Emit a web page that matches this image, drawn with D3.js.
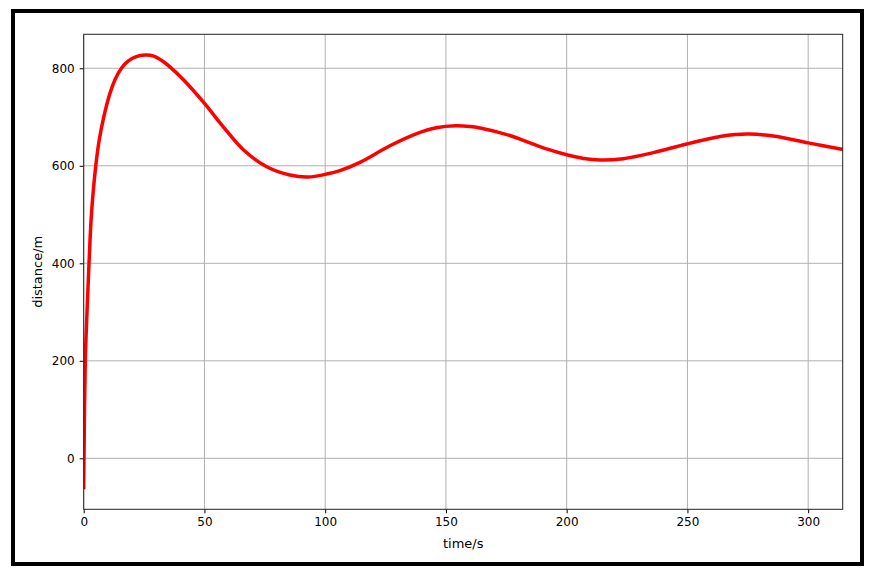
<!DOCTYPE html>
<html>
<head>
<meta charset="utf-8">
<script src="https://cdn.jsdelivr.net/npm/d3@7"></script>
<style>
  html, body { margin: 0; padding: 0; background: #fff; }
  svg { display: block; }
</style>
</head>
<body>
<svg id="chart" width="869" height="574"></svg>
<script>
// ---- data ----
const timeValues = [0, 0.12, 0.66, 1.37, 2.2, 3.2, 5.0, 6.5, 8.3, 10.9, 13.0, 15.6, 18.5, 21.5, 25.5,
  29.0, 32.0, 35.7, 41.2, 49.5, 57.8, 66.1, 75.8, 85.4, 93.0, 100.6, 106.1, 114.4, 126.8, 137.9,
  146.0, 154.0, 160.0, 164.1, 175.2, 184.8, 192.0, 200.0, 207.0, 214.0, 223.4, 235.9, 249.7, 263.5,
  270.0, 275.5, 285.5, 300.0, 314.0];
const distanceValues = [-60, 0, 200, 300, 400, 500, 600, 655, 700, 749, 777, 800, 815, 823.5, 827,
  825, 817, 803, 777, 731, 680, 633, 598, 581, 577, 583, 590, 607, 641, 666,
  678, 682, 680.5, 677.5, 664, 647, 634, 622.5, 615, 612, 614.6, 627, 644.7, 660,
  664, 665, 661, 647, 634];
const xTicks = [0, 50, 100, 150, 200, 250, 300];
const yTicks = [0, 200, 400, 600, 800];
const xLabel = "time/s";
const yLabel = "distance/m";

// ---- layout ----
const svg = d3.select("#chart");
const plot = { left: 83.7, right: 842.7, top: 34.3, bottom: 509.3 };

svg.append("rect").attr("x", 13).attr("y", 11).attr("width", 849).attr("height", 553)
  .attr("fill", "#fff").attr("stroke", "#000").attr("stroke-width", 4);

const x = d3.scaleLinear().domain([0, 314.3]).range([plot.left, plot.right]);
const y = d3.scaleLinear().domain([-104.6, 869.7]).range([plot.bottom, plot.top]);

// grid
const grid = svg.append("g");
grid.selectAll("line.vx").data(xTicks).join("line")
  .attr("x1", d => x(d)).attr("x2", d => x(d)).attr("y1", plot.top).attr("y2", plot.bottom)
  .attr("stroke", "#b0b0b0").attr("stroke-width", 1);
grid.selectAll("line.hy").data(yTicks).join("line")
  .attr("y1", d => y(d)).attr("y2", d => y(d)).attr("x1", plot.left).attr("x2", plot.right)
  .attr("stroke", "#b0b0b0").attr("stroke-width", 1);

// line
const pts = timeValues.map((t, i) => [t, distanceValues[i]]);
const clipId = "plotclip";
svg.append("clipPath").attr("id", clipId).append("rect")
  .attr("x", plot.left).attr("y", plot.top).attr("width", plot.right - plot.left).attr("height", plot.bottom - plot.top);
svg.append("path").datum(pts)
  .attr("clip-path", "url(#" + clipId + ")")
  .attr("fill", "none").attr("stroke", "#ff0000").attr("stroke-width", 3.5)
  .attr("stroke-linecap", "square").attr("stroke-linejoin", "round")
  .attr("d", d3.line().x(d => x(d[0])).y(d => y(d[1])).curve(d3.curveCatmullRom.alpha(0.5)));

// axes
const font = "DejaVu Sans, sans-serif";
const xAxis = svg.append("g").attr("transform", `translate(0,${plot.bottom})`)
  .call(d3.axisBottom(x).tickValues(xTicks).tickSize(4).tickPadding(4).tickFormat(d3.format("d")));
const yAxis = svg.append("g").attr("transform", `translate(${plot.left},0)`)
  .call(d3.axisLeft(y).tickValues(yTicks).tickSize(4).tickPadding(5).tickFormat(d3.format("d")));
[xAxis, yAxis].forEach(a => {
  a.select(".domain").remove();
  a.selectAll("text").attr("font-family", font).attr("font-size", 12).attr("fill", "#000");
  a.selectAll("line").attr("stroke", "#000");
});

// frame
svg.append("rect").attr("x", plot.left).attr("y", plot.top)
  .attr("width", plot.right - plot.left).attr("height", plot.bottom - plot.top)
  .attr("fill", "none").attr("stroke", "#222").attr("stroke-width", 1);

// labels
svg.append("text").attr("x", (plot.left + plot.right) / 2).attr("y", 548)
  .attr("text-anchor", "middle").attr("font-family", font).attr("font-size", 13).text(xLabel);
svg.append("text").attr("transform", `translate(42,${(plot.top + plot.bottom) / 2}) rotate(-90)`)
  .attr("text-anchor", "middle").attr("font-family", font).attr("font-size", 13).text(yLabel);
</script>
</body>
</html>
